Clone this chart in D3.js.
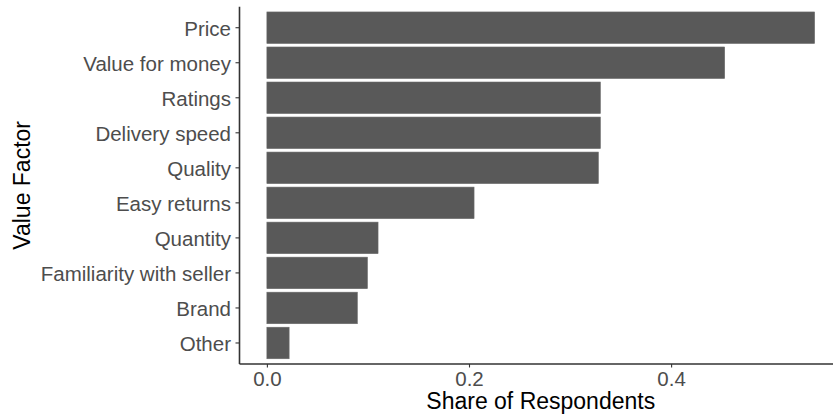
<!DOCTYPE html>
<html><head><meta charset="utf-8">
<script src="https://cdn.jsdelivr.net/npm/d3@7"></script>
<style>
body{margin:0;background:#fff;}
svg{display:block;}
text{font-family:"Liberation Sans",Arial,Helvetica,sans-serif;}
</style></head>
<body>
<svg id="chart" width="833" height="416"></svg>
<script>
const categories = ["Price","Value for money","Ratings","Delivery speed","Quality","Easy returns","Quantity","Familiarity with seller","Brand","Other"];
const shares = [0.542,0.453,0.330,0.330,0.328,0.205,0.110,0.0995,0.0895,0.022];
const xTicks = [0.0,0.2,0.4];
const xTickLabels = ["0.0","0.2","0.4"];

(function(){
const data = categories.map((c,i)=>({cat:c,val:shares[i]}));
const svg = d3.select("#chart");
const pLeft = 239.5, pTop = 6.7, pBottom = 364, pRight = 842;

const maxV = d3.max(shares);
const x = d3.scaleLinear().domain([-0.05*maxV, maxV*1.05]).range([pLeft, pRight]);
const y = d3.scaleBand().domain(categories).range([pTop, pBottom]).paddingInner(0.1).paddingOuter(0.15);

svg.append("g").selectAll("rect").data(data).join("rect")
  .attr("x", x(0))
  .attr("y", d=>y(d.cat))
  .attr("width", d=>x(d.val)-x(0))
  .attr("height", y.bandwidth())
  .attr("fill", "#595959")
  .attr("stroke", "#6a6a6a").attr("stroke-width", 0.6);

const xa = svg.append("g").attr("transform",`translate(0,${pBottom})`)
  .call(d3.axisBottom(x).tickValues(xTicks).tickFormat((d,i)=>xTickLabels[i]).tickSize(3.5).tickPadding(4));
xa.select(".domain").remove();
xa.append("line").attr("x1",pLeft).attr("x2",833).attr("y1",0).attr("y2",0).attr("stroke","#333").attr("stroke-width",1.6);
xa.selectAll(".tick line").attr("stroke","#333").attr("stroke-width",1.1);
xa.selectAll(".tick text").attr("fill","#4d4d4d").style("font-size","20.5px").style("font-family","'Liberation Sans',Arial,sans-serif");

const ya = svg.append("g").attr("transform",`translate(${pLeft},0)`)
  .call(d3.axisLeft(y).tickSize(4).tickPadding(4.5));
ya.select(".domain").remove();
ya.append("line").attr("x1",0).attr("x2",0).attr("y1",pTop).attr("y2",pBottom).attr("stroke","#333").attr("stroke-width",1.6);
ya.selectAll(".tick line").attr("stroke","#333").attr("stroke-width",1.1);
ya.selectAll(".tick text").attr("fill","#4d4d4d").attr("dy","0.39em").style("font-size","20.5px").style("font-family","'Liberation Sans',Arial,sans-serif");

svg.append("text").attr("x",(pLeft+pRight)/2).attr("y",409).attr("text-anchor","middle")
  .attr("fill","#000").style("font-size","23px").text("Share of Respondents");
svg.append("text").attr("transform",`translate(30,${(pTop+pBottom)/2}) rotate(-90)`).attr("text-anchor","middle")
  .attr("fill","#000").style("font-size","23px").text("Value Factor");
})();
</script>
</body></html>
